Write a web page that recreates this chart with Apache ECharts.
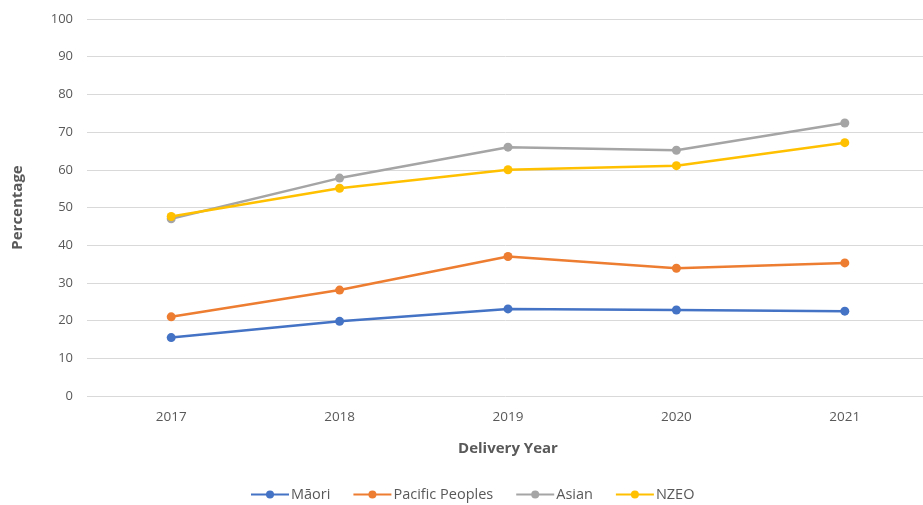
<!DOCTYPE html>
<html>
<head>
<meta charset="utf-8">
<script src="https://cdn.jsdelivr.net/npm/echarts@6/dist/echarts.min.js"></script>
<style>
html,body{margin:0;padding:0;background:#fff;}
#chart{width:923px;height:505px;}
</style>
</head>
<body>
<div id="chart"></div>
<script>
const years = ['2017', '2018', '2019', '2020', '2021'];
const maori = [15.5, 19.8, 23.1, 22.8, 22.5];
const pacific = [21.0, 28.1, 37.0, 33.9, 35.3];
const asian = [47.0, 57.8, 66.0, 65.2, 72.4];
const nzeo = [47.6, 55.1, 60.0, 61.1, 67.2];
const seriesNames = ['Māori', 'Pacific Peoples', 'Asian', 'NZEO'];
const colors = ['#4472C4', '#ED7D31', '#A5A5A5', '#FFC000'];
const yTicks = [0, 10, 20, 30, 40, 50, 60, 70, 80, 90, 100];

const font = 'Open Sans, Liberation Sans, sans-serif';
const chart = echarts.init(document.getElementById('chart'));
const data = [maori, pacific, asian, nzeo];
chart.setOption({
  animation: false,
  color: colors,
  grid: { left: 87, width: 842, top: 19, bottom: 109, containLabel: false, outerBoundsMode: 'none' },
  legend: {
    bottom: 3,
    left: 250,
    padding: 0,
    itemWidth: 38,
    itemHeight: 10,
    itemGap: 22,
    textStyle: { fontFamily: font, fontSize: 14.5, color: '#595959', padding: [0, 0, 0, -3] },
    data: seriesNames
  },
  xAxis: {
    type: 'category',
    data: years,
    boundaryGap: true,
    name: 'Delivery Year',
    nameLocation: 'middle',
    nameGap: 45,
    nameTextStyle: { fontFamily: font, fontSize: 15, fontWeight: 'bold', color: '#595959' },
    axisLine: { show: false },
    axisTick: { show: false },
    axisLabel: { fontFamily: font, fontSize: 13.5, color: '#595959', margin: 14 }
  },
  yAxis: {
    type: 'value',
    min: yTicks[0],
    max: yTicks[yTicks.length - 1],
    interval: 10,
    name: 'Percentage',
    nameLocation: 'middle',
    nameGap: 62,
    nameTextStyle: { fontFamily: font, fontSize: 15, fontWeight: 'bold', color: '#595959' },
    axisLine: { show: false },
    axisTick: { show: false },
    axisLabel: { fontFamily: font, fontSize: 13, color: '#595959', margin: 14 },
    splitLine: { lineStyle: { color: '#D9D9D9', width: 1 } }
  },
  series: seriesNames.map((n, i) => ({
    name: n,
    type: 'line',
    data: data[i],
    symbol: 'circle',
    symbolSize: 9,
    lineStyle: { width: 2.5, color: colors[i] },
    itemStyle: { color: colors[i] }
  }))
});
</script>
</body>
</html>
